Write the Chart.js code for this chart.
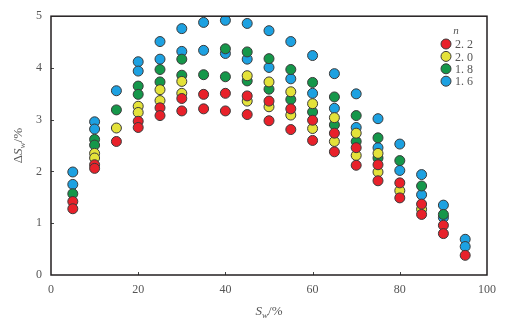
<!DOCTYPE html>
<html>
<head>
<meta charset="utf-8">
<script src="https://cdn.jsdelivr.net/npm/chart.js@4.4.0/dist/chart.umd.min.js"></script>
<style>
  body { margin: 0; background: #fff; }
</style>
</head>
<body>
<canvas id="myChart" width="528" height="325"></canvas>
<script>
// S_w values (%) where each column of points sits
const swValues = [5, 10, 15, 20, 25, 30, 35, 40, 45, 50, 55, 60, 65, 70, 75, 80, 85, 90, 95];
const xTicks = [0, 20, 40, 60, 80, 100];
const yTicks = [0, 1, 2, 3, 4, 5];
const legendLabels = ["2. 2", "2. 0", "1. 8", "1. 6"];

// delta S_w (%), two points per column for each n
const n22High = [1.42, 2.13, 2.58, 2.97, 3.23, 3.41, 3.49, 3.51, 3.46, 3.36, 3.21, 2.99, 2.74, 2.46, 2.13, 1.78, 1.37, 0.96, 0.38];
const n22Low = [1.28, 2.06, null, 2.85, 3.08, 3.17, 3.21, 3.17, 3.10, 2.98, 2.81, 2.60, 2.38, 2.12, 1.82, 1.49, 1.17, 0.80, null];
const n20High = [null, 2.35, 2.84, 3.26, 3.58, 3.74, null, null, 3.85, 3.73, 3.54, 3.31, 3.04, 2.74, 2.35, null, null, null, null];
const n20Low = [null, 2.26, null, 3.14, 3.37, 3.51, null, null, 3.36, 3.25, 3.09, 2.83, 2.58, 2.31, 1.99, 1.63, 1.27, null, null];
const n18High = [1.57, 2.62, 3.19, 3.65, 3.97, 4.17, null, 4.37, 4.31, 4.18, 3.97, 3.72, 3.44, 3.08, 2.65, 2.21, 1.72, 1.17, null];
const n18Low = [null, 2.51, null, 3.49, 3.73, 3.86, 3.87, 3.83, 3.75, 3.59, 3.39, 3.15, 2.90, 2.58, 2.26, null, null, null, null];
const n16High = [1.99, 2.96, 3.56, 4.12, 4.51, 4.76, 4.88, 4.92, 4.86, 4.72, 4.51, 4.24, 3.89, 3.50, 3.02, 2.53, 1.94, 1.35, 0.69];
const n16Low = [1.75, 2.82, null, 3.94, 4.17, 4.32, 4.34, 4.28, 4.17, 4.01, 3.79, 3.51, 3.22, 2.85, 2.46, 2.02, 1.55, 1.11, 0.55];

const seriesColors = ["#e8212a", "#e4e23a", "#15974a", "#1da1e1"];
const textColor = "#555";
const serif = "'Liberation Serif', 'DejaVu Serif', serif";

// turn the two lists of one series into scatter points, skipping gaps
function toPoints(high, low) {
  const pts = [];
  for (let i = 0; i < swValues.length; i++) {
    if (high[i] != null) pts.push({ x: swValues[i], y: high[i] });
    if (low[i] != null) pts.push({ x: swValues[i], y: low[i] });
  }
  return pts;
}

const seriesData = [
  toPoints(n22High, n22Low),
  toPoints(n20High, n20Low),
  toPoints(n18High, n18Low),
  toPoints(n16High, n16Low),
];

// draws text pieces side by side (for the subscript in the axis titles)
function drawParts(ctx, parts, cx, cy) {
  let total = 0;
  parts.forEach((p) => {
    ctx.font = p.font;
    p.w = ctx.measureText(p.text).width;
    total += p.w;
  });
  let x = cx - total / 2;
  ctx.textAlign = "left";
  ctx.textBaseline = "alphabetic";
  parts.forEach((p) => {
    ctx.font = p.font;
    ctx.fillText(p.text, x, cy + (p.dy || 0));
    x += p.w;
  });
}

const decorPlugin = {
  id: "decor",
  afterDraw(chart) {
    const ctx = chart.ctx;
    const area = chart.chartArea;
    const xs = chart.scales.x;
    const ys = chart.scales.y;
    ctx.save();

    // small tick marks pointing inward
    ctx.strokeStyle = "#444";
    ctx.lineWidth = 1;
    xTicks.slice(1, -1).forEach((v) => {
      const px = Math.round(xs.getPixelForValue(v)) + 0.5;
      ctx.beginPath();
      ctx.moveTo(px, area.bottom);
      ctx.lineTo(px, area.bottom - 3);
      ctx.stroke();
    });
    yTicks.slice(1, -1).forEach((v) => {
      const py = Math.round(ys.getPixelForValue(v)) + 0.5;
      ctx.beginPath();
      ctx.moveTo(area.left, py);
      ctx.lineTo(area.left + 3, py);
      ctx.stroke();
    });

    // frame
    ctx.strokeStyle = "#231f20";
    ctx.lineWidth = 1.5;
    ctx.strokeRect(area.left, area.top, area.right - area.left, area.bottom - area.top);

    // axis titles
    ctx.fillStyle = textColor;
    const big = "13px " + serif;
    const bigIt = "italic 13px " + serif;
    const small = "italic 9px " + serif;
    drawParts(ctx, [
      { text: "S", font: bigIt },
      { text: "w", font: small, dy: 3 },
      { text: "/%", font: big },
    ], (area.left + area.right) / 2, 315);

    ctx.save();
    ctx.translate(22, (area.top + area.bottom) / 2);
    ctx.rotate(-Math.PI / 2);
    drawParts(ctx, [
      { text: "Δ", font: big },
      { text: "S", font: bigIt },
      { text: "w", font: small, dy: 3 },
      { text: "/%", font: big },
    ], 0, 0);
    ctx.restore();

    // legend
    ctx.font = "italic 11px " + serif;
    ctx.textAlign = "center";
    ctx.textBaseline = "middle";
    ctx.fillText("n", 456, 31);
    ctx.font = "12px " + serif;
    ctx.textAlign = "left";
    legendLabels.forEach((lbl, i) => {
      const y = 44 + i * 12.4;
      ctx.beginPath();
      ctx.arc(446, y, 5, 0, Math.PI * 2);
      ctx.fillStyle = seriesColors[i];
      ctx.fill();
      ctx.strokeStyle = "#3a3a3a";
      ctx.lineWidth = 1;
      ctx.stroke();
      ctx.fillStyle = textColor;
      ctx.fillText(lbl, 455, y + 1);
    });

    ctx.restore();
  },
};

const ctx = document.getElementById("myChart");
new Chart(ctx, {
  type: "scatter",
  data: {
    datasets: seriesData.map((pts, i) => ({
      label: legendLabels[i],
      data: pts,
      backgroundColor: seriesColors[i],
      borderColor: "#3a3a3a",
      borderWidth: 1,
      pointRadius: 5,
      pointHoverRadius: 5,
    })),
  },
  options: {
    responsive: false,
    animation: false,
    devicePixelRatio: 1,
    layout: { padding: { top: 15, right: 41, left: 0, bottom: 0 } },
    plugins: {
      legend: { display: false },
      tooltip: { enabled: false },
    },
    scales: {
      x: {
        type: "linear",
        min: 0,
        max: 100,
        afterBuildTicks: (scale) => {
          scale.ticks = xTicks.map((v) => ({ value: v }));
        },
        afterFit: (scale) => {
          scale.height = 50;
        },
        grid: { display: false, drawTicks: false },
        border: { display: false },
        ticks: {
          padding: 8,
          color: textColor,
          font: { family: serif, size: 12 },
          maxRotation: 0,
        },
      },
      y: {
        min: 0,
        max: 5,
        afterBuildTicks: (scale) => {
          scale.ticks = yTicks.map((v) => ({ value: v }));
        },
        afterFit: (scale) => {
          scale.width = 51;
        },
        grid: { display: false, drawTicks: false },
        border: { display: false },
        ticks: {
          padding: 9,
          color: textColor,
          font: { family: serif, size: 12 },
        },
      },
    },
  },
  plugins: [decorPlugin],
});
</script>
</body>
</html>
